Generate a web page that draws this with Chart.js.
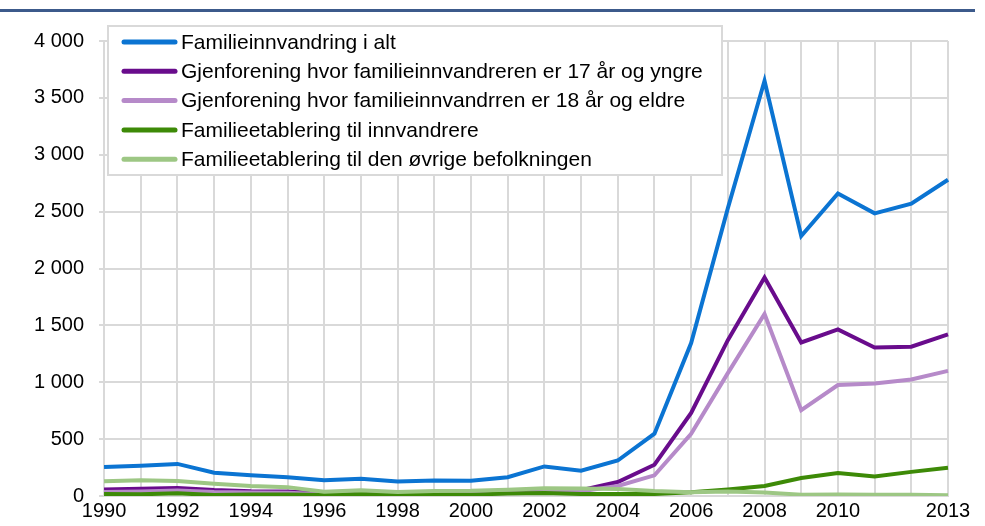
<!DOCTYPE html>
<html>
<head>
<meta charset="utf-8">
<script src="https://cdn.jsdelivr.net/npm/chart.js@4"></script>
<style>
  body { margin: 0; background: #fff; }
  #myChart { display: block; }
</style>
</head>
<body>
<canvas id="myChart" width="985" height="526"></canvas>
<script>
const years = ['1990','1991','1992','1993','1994','1995','1996','1997','1998','1999','2000','2001',
  '2002','2003','2004','2005','2006','2007','2008','2009','2010','2011','2012','2013'];
const yTicks = [0, 500, 1000, 1500, 2000, 2500, 3000, 3500, 4000];

const seriesNames = [
  'Familieinnvandring i alt',
  'Gjenforening hvor familieinnvandreren er 17 år og yngre',
  'Gjenforening hvor familieinnvandrren er 18 år og eldre',
  'Familieetablering til innvandrere',
  'Familieetablering til den øvrige befolkningen'
];
const totalAll = [255, 265, 282, 205, 182, 165, 138, 152, 128, 136, 134, 165, 260, 222, 312, 548, 1345, 2530, 3650, 2285, 2660, 2485, 2570, 2780];
const reunionYoung = [58, 64, 70, 52, 42, 40, 24, 32, 22, 30, 30, 36, 46, 52, 123, 275, 730, 1370, 1920, 1350, 1465, 1305, 1312, 1420];
const reunionOld = [35, 40, 48, 35, 30, 28, 15, 22, 15, 20, 20, 26, 36, 42, 88, 182, 546, 1080, 1600, 755, 975, 990, 1025, 1100];
const estabImmigrants = [18, 15, 24, 8, 14, 14, 8, 18, 8, 16, 12, 22, 26, 18, 18, 18, 32, 58, 88, 158, 202, 172, 212, 248];
const estabOthers = [130, 138, 132, 108, 88, 78, 38, 50, 35, 44, 46, 56, 68, 66, 62, 44, 34, 40, 30, 12, 14, 12, 10, 6];

const colors = ['#0b74d2', '#690c8c', '#b68ac9', '#3d8a07', '#9dc784'];
const values = [totalAll, reunionYoung, reunionOld, estabImmigrants, estabOthers];

const FONT = '"Liberation Sans", Arial, sans-serif';

// title rule at top + legend box drawn over the plot
const extras = {
  id: 'extras',
  beforeDraw(chart) {
    const c = chart.ctx;
    c.save();
    c.fillStyle = '#3c5a8b';
    c.fillRect(0, 9, 975, 3);
    c.restore();
  },
  afterDraw(chart) {
    const c = chart.ctx;
    c.save();
    c.fillStyle = '#fff';
    c.fillRect(108, 26, 614, 149);
    c.strokeStyle = '#d9d9d9';
    c.lineWidth = 2;
    c.strokeRect(108, 26, 614, 149);
    c.font = '21px ' + FONT;
    c.textBaseline = 'middle';
    chart.data.datasets.forEach((ds, i) => {
      const y = 42 + i * 29.3;
      c.strokeStyle = ds.borderColor;
      c.lineWidth = 5;
      c.lineCap = 'round';
      c.beginPath();
      c.moveTo(124, y);
      c.lineTo(175, y);
      c.stroke();
      c.fillStyle = '#000';
      c.fillText(ds.label, 181, y + 1);
    });
    c.restore();
  }
};

new Chart(document.getElementById('myChart'), {
  type: 'line',
  data: {
    labels: years,
    datasets: seriesNames.map((name, i) => ({
      label: name,
      data: values[i],
      borderColor: colors[i],
      backgroundColor: colors[i],
      borderWidth: 4,
      pointRadius: 0,
      tension: 0,
      order: 4 - i
    }))
  },
  options: {
    responsive: false,
    animation: false,
    layout: { padding: { top: 41, left: 19, right: 37, bottom: 0 } },
    plugins: { legend: { display: false }, tooltip: { enabled: false } },
    scales: {
      x: {
        offset: false,
        grid: { color: '#d9d9d9', lineWidth: 2, drawTicks: false },
        border: { color: '#d9d9d9', width: 2 },
        ticks: {
          autoSkip: false,
          maxRotation: 0,
          padding: 3,
          color: '#000',
          font: { family: FONT, size: 20 },
          callback: function (v, i) {
            const y = Number(years[i]);
            return (y % 2 === 0 && y <= 2010) || y === 2013 ? years[i] : '';
          }
        }
      },
      y: {
        min: yTicks[0],
        max: yTicks[yTicks.length - 1],
        afterBuildTicks: (axis) => { axis.ticks = yTicks.map(v => ({ value: v })); },
        grid: { color: '#d9d9d9', lineWidth: 2, tickLength: 5 },
        border: { color: '#d9d9d9', width: 2 },
        ticks: {
          padding: 15,
          color: '#000',
          font: { family: FONT, size: 20 },
          callback: (v) => String(v).replace(/\B(?=(\d{3})+(?!\d))/g, ' ')
        }
      }
    }
  },
  plugins: [extras]
});
</script>
</body>
</html>
